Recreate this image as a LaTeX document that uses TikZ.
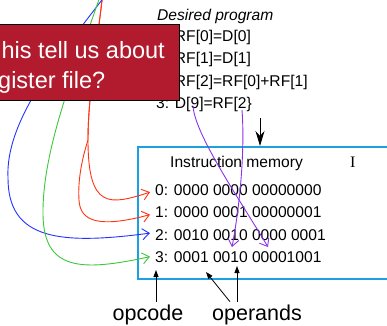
\documentclass[tikz,border=0pt]{standalone}
\usepackage{fontspec}
\setmainfont{Liberation Sans}
\newfontfamily\romanI{Liberation Serif}
\usetikzlibrary{arrows.meta}

\definecolor{askred}{RGB}{178,27,45}
\definecolor{memblue}{RGB}{27,161,226}
\definecolor{linkred}{RGB}{255,51,17}
\definecolor{linkblue}{RGB}{34,51,255}
\definecolor{linkgreen}{RGB}{60,200,60}
\definecolor{linkpurple}{RGB}{140,50,230}

\begin{document}
\begin{tikzpicture}[x=1pt,y=-1pt,
  codetext/.style={inner sep=0pt, font=\fontsize{15.6}{18}\selectfont},
  asktext/.style={inner sep=0pt, text=white, font=\fontsize{23.5}{28}\selectfont},
  tagtext/.style={inner sep=3pt, font=\fontsize{21.5}{25}\selectfont},
  link/.style={line width=0.9pt, -{Straight Barb[length=7pt,width=11pt]}},
  ptr/.style={line width=0.8pt, -{Triangle[length=7pt,width=5pt]}},
]
\useasboundingbox (0,0) rectangle (387,325);
\clip (0,0) rectangle (387,325);

% instruction memory frame
\node[draw=memblue, line width=1.5pt, minimum width=270pt, minimum height=132pt,
      anchor=north west, inner sep=0pt] (mem) at (137,146) {};

% program listing
\node[codetext, anchor=base west, font=\fontsize{15.6}{18}\selectfont\itshape] (ptitle) at (157,20.5) {Desired program};
\node[codetext, anchor=base west] (p0) at (156,41.5) {0: RF[0]=D[0]};
\node[codetext, anchor=base west] (p1) at (156,63.8) {1: RF[1]=D[1]};
\node[codetext, anchor=base west] (p2) at (156,86) {2: RF[2]=RF[0]+RF[1]};
\node[codetext, anchor=base west] (p3) at (156,108.5) {3: D[9]=RF[2\}};

% memory contents
\node[codetext, anchor=base west] (mtitle) at (170,167) {Instruction memory};
\node[inner sep=0pt, anchor=base west, font=\fontsize{16}{18}\romanI] (mark) at (350,167) {I};
\node[codetext, anchor=base west] (row0) at (155,195) {0: 0000 0000 00000000};
\node[codetext, anchor=base west] (row1) at (155,217) {1: 0000 0001 00000001};
\node[codetext, anchor=base west] (row2) at (155,240) {2: 0010 0010 0000 0001};
\node[codetext, anchor=base west] (row3) at (155,262) {3: 0001 0010 00001001};

% field labels
\node[tagtext, anchor=base] (opcode) at (148,320.5) {opcode};
\node[tagtext, anchor=base] (operands) at (257,320.5) {operands};

% sources above the frame and pointer ends
\coordinate (srcR) at (103,-8);
\coordinate (srcB) at (108,-8);
\coordinate (srcG) at (101.5,-8);
\coordinate (d9) at (193,106);
\coordinate (rf2) at (242,110);
\coordinate (fieldA) at (232,247);
\coordinate (fieldB) at (268,247);
\coordinate (progOut) at (260,118);
\coordinate (opcTip) at (156,270);
\coordinate (opnTipA) at (206,272);
\coordinate (opnTipB) at (237,266);

% program lines mapped to memory rows
\draw[link, linkred] (srcR) .. controls (95,60) and (88,100) .. (88,140)
  .. controls (88,210) and (110,205) .. ([xshift=-5pt,yshift=-2.5pt]row0.west);
\draw[link, linkred] (srcR) .. controls (95,60) and (88,100) .. (88,140)
  .. controls (80,165) and (78,185) .. (79,200)
  .. controls (80,222) and (100,228) .. ([xshift=-5pt,yshift=-3pt]row1.west);
\draw[link, linkblue] (srcB) .. controls (60,55) and (5,120) .. (8,178)
  .. controls (8,240) and (60,245) .. ([xshift=-5pt,yshift=1.5pt]row2.west);
\draw[link, linkgreen] (srcG) .. controls (75,70) and (42,150) .. (43,215)
  .. controls (44,270) and (80,272) .. ([xshift=-5pt]row3.west);

% operand references
\draw[link, linkpurple] (d9) .. controls (195,135) and (240,200) .. (fieldB);
\draw[link, linkpurple] (rf2) .. controls (245,150) and (240,205) .. (fieldA);

% program feeds memory
\draw[line width=0.9pt, -{Stealth[length=15pt,width=9pt]}] (progOut) -- (progOut |- mem.north);

% question box
\node[fill=askred, draw=black, line width=0.8pt, minimum width=200pt, minimum height=76pt,
      anchor=north east, inner sep=0pt] (ask) at (180,24) {};
\node[asktext, anchor=base east] (askA) at (165,58) {his tell us about};
\node[asktext, anchor=base west] (askB) at (-2,88) {gister file?};

% field pointers
\draw[ptr] (opcTip |- opcode.north) -- (opcTip);
\draw[ptr] ([xshift=-27pt]operands.north) -- (opnTipA);
\draw[ptr] ([xshift=-20pt]operands.north) -- (opnTipB);
\end{tikzpicture}
\end{document}
